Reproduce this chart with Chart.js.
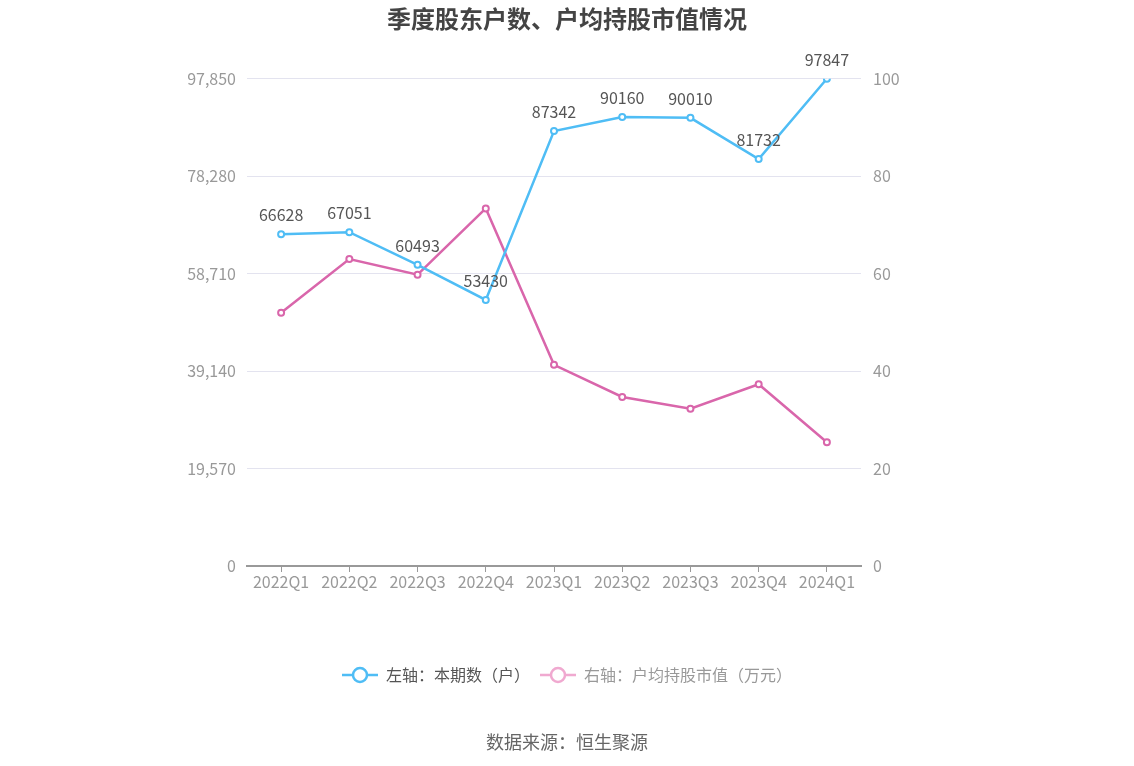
<!DOCTYPE html>
<html>
<head>
<meta charset="utf-8">
<script src="https://cdn.jsdelivr.net/npm/chart.js@4"></script>
<style>
  html, body { margin: 0; padding: 0; background: #fff; }
  #wrap { position: relative; width: 1134px; height: 766px; }
  #source { position: absolute; left: 0; width: 1134px; top: 728px; text-align: center;
            font: 18px "Noto Sans CJK SC", sans-serif; color: #666; }
</style>
</head>
<body>
<div id="wrap">
  <canvas id="chart" width="1134" height="766"></canvas>
  <div id="source">数据来源：恒生聚源</div>
</div>
<script>
// quarters and the two series
const quarters = ['2022Q1', '2022Q2', '2022Q3', '2022Q4', '2023Q1', '2023Q2', '2023Q3', '2023Q4', '2024Q1'];
const holders = [66628, 67051, 60493, 53430, 87342, 90160, 90010, 81732, 97847];
const avgValue = [52.0, 63.0, 59.8, 73.4, 41.3, 34.7, 32.3, 37.3, 25.4];
const leftTicks = [0, 19570, 39140, 58710, 78280, 97850];
const rightTicks = [0, 20, 40, 60, 80, 100];

const FONT = '"Noto Sans CJK SC", "Noto Sans", sans-serif';
const BLUE = '#4fbdf5';
const PINK = '#d966ab';

// little line-circle-line marker for the legend
function legendMark(color) {
    const c = document.createElement('canvas');
    c.width = 36; c.height = 18;
    const g = c.getContext('2d');
    g.strokeStyle = color;
    g.lineWidth = 2.5;
    g.beginPath(); g.moveTo(0, 9); g.lineTo(36, 9); g.stroke();
    g.fillStyle = '#fff';
    g.beginPath(); g.arc(18, 9, 7, 0, Math.PI * 2); g.fill(); g.stroke();
    return c;
}

// value labels above the blue line
const valueLabels = {
    id: 'valueLabels',
    afterDatasetsDraw(chart) {
        const ctx = chart.ctx;
        const meta = chart.getDatasetMeta(0);
        ctx.save();
        ctx.font = '16px ' + FONT;
        ctx.fillStyle = '#555';
        ctx.textAlign = 'center';
        ctx.textBaseline = 'middle';
        meta.data.forEach((pt, i) => {
            ctx.fillText(String(holders[i]), pt.x, pt.y - 19);
        });
        ctx.restore();
    }
};

new Chart(document.getElementById('chart'), {
    type: 'line',
    data: {
        labels: quarters,
        datasets: [{
            label: '左轴：本期数（户）',
            data: holders,
            yAxisID: 'y',
            borderColor: BLUE,
            backgroundColor: '#fff',
            borderWidth: 2.5,
            pointRadius: 3,
            pointBorderWidth: 2,
            pointBackgroundColor: '#fff',
            tension: 0
        }, {
            label: '右轴：户均持股市值（万元）',
            data: avgValue,
            yAxisID: 'y1',
            borderColor: PINK,
            backgroundColor: '#fff',
            borderWidth: 2.5,
            pointRadius: 3,
            pointBorderWidth: 2,
            pointBackgroundColor: '#fff',
            tension: 0
        }]
    },
    options: {
        responsive: false,
        animation: false,
        layout: { padding: { left: 0, right: 0, top: 0, bottom: 73 } },
        plugins: {
            title: {
                display: true,
                text: '季度股东户数、户均持股市值情况',
                color: '#444',
                font: { family: FONT, size: 24, weight: 'bold' },
                padding: { top: 4, bottom: 46 }
            },
            legend: {
                position: 'bottom',
                labels: {
                    usePointStyle: true,
                    pointStyleWidth: 36,
                    padding: 10,
                    font: { family: FONT, size: 16 },
                    generateLabels() {
                        return [
                            { text: '左轴：本期数（户）', fontColor: '#555', pointStyle: legendMark(BLUE),
                              fillStyle: '#fff', strokeStyle: BLUE, lineWidth: 0, datasetIndex: 0, hidden: false },
                            { text: '右轴：户均持股市值（万元）', fontColor: '#999', pointStyle: legendMark('#f0a9d0'),
                              fillStyle: '#fff', strokeStyle: '#f0a9d0', lineWidth: 0, datasetIndex: 1, hidden: false }
                        ];
                    }
                }
            },
            tooltip: { enabled: false }
        },
        scales: {
            x: {
                offset: true,
                grid: { display: true, drawOnChartArea: false, offset: false, tickLength: 6, color: '#999', lineWidth: 1 },
                border: { display: true, color: '#999', width: 2 },
                ticks: { color: '#999', font: { family: FONT, size: 16 }, padding: 0, maxRotation: 0 },
                afterFit(scale) { scale.height = 91; }
            },
            y: {
                position: 'left',
                min: 0,
                max: leftTicks[leftTicks.length - 1],
                afterBuildTicks(scale) { scale.ticks = leftTicks.map(v => ({ value: v })); },
                grid: { color: '#e3e3ef', lineWidth: 1, drawTicks: false },
                border: { display: false },
                ticks: {
                    color: '#999',
                    font: { family: FONT, size: 16 },
                    padding: 11,
                    callback: v => v.toLocaleString('en-US')
                },
                afterFit(scale) { scale.width = 247; }
            },
            y1: {
                position: 'right',
                min: 0,
                max: 100,
                afterBuildTicks(scale) { scale.ticks = rightTicks.map(v => ({ value: v })); },
                grid: { drawOnChartArea: false, drawTicks: false },
                border: { display: false },
                ticks: { color: '#999', font: { family: FONT, size: 16 }, padding: 12 },
                afterFit(scale) { scale.width = 273; }
            }
        }
    },
    plugins: [valueLabels]
});
</script>
</body>
</html>
